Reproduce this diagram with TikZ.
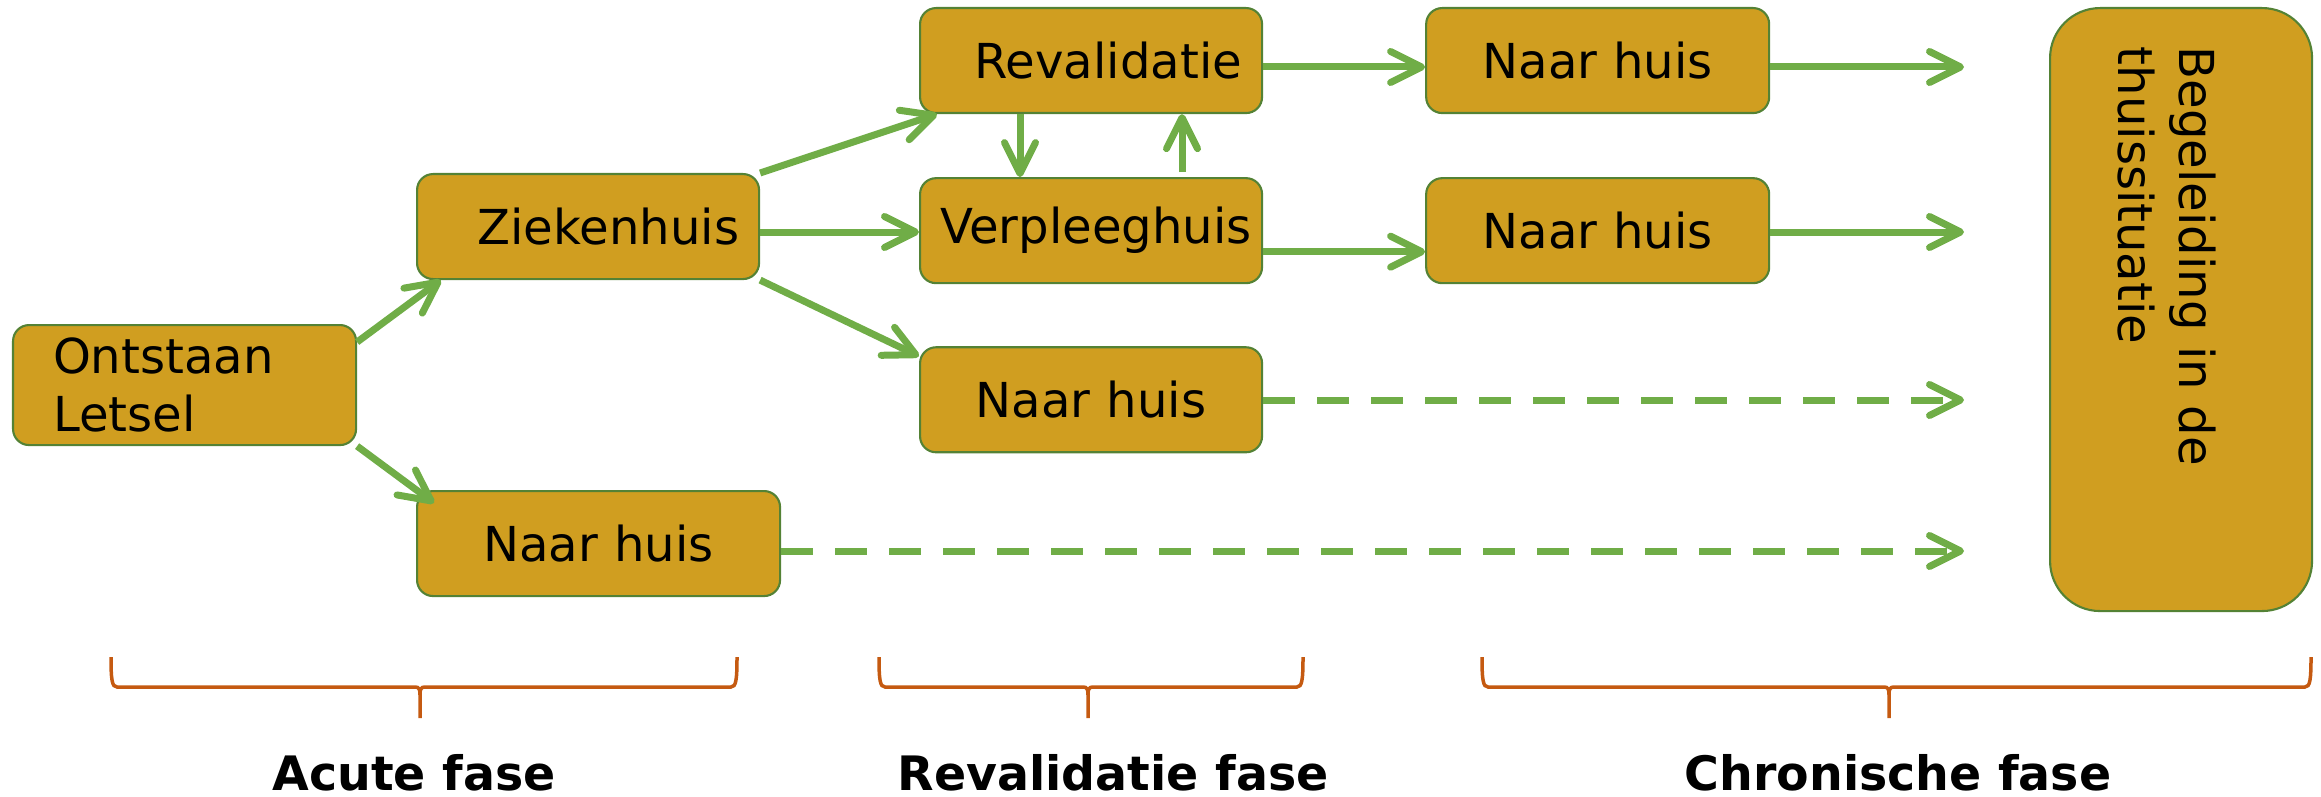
\documentclass[tikz,border=0pt]{standalone}
\usepackage{fontspec}
\setmainfont{DejaVu Sans}
\usetikzlibrary{positioning, arrows.meta}

\definecolor{goud}{RGB}{208,158,32}
\definecolor{randgroen}{RGB}{84,130,53}
\definecolor{pijlgroen}{RGB}{112,173,71}
\definecolor{haakoranje}{RGB}{197,90,17}

% accolade onder een fase: links, midden, rechts
\newcommand{\fasehaak}[3]{%
  \draw[haak] (#1,-6.57) .. controls (#1,-6.80) and (#1+0.01,-6.87) .. (#1+0.06,-6.87)
    -- (#2-0.05,-6.87) .. controls (#2-0.01,-6.87) and (#2,-6.89) .. (#2,-6.95) -- (#2,-7.18)
    (#2,-6.95) .. controls (#2,-6.89) and (#2+0.01,-6.87) .. (#2+0.05,-6.87)
    -- (#3-0.06,-6.87) .. controls (#3-0.01,-6.87) and (#3,-6.80) .. (#3,-6.57);}

\begin{document}
\begin{tikzpicture}[
    vak/.style={draw=randgroen, fill=goud, line width=0.6pt, rounded corners=0.16cm,
      minimum height=1.05cm, inner xsep=0.2cm, inner ysep=0pt, align=center,
      font=\fontsize{13.7}{16.5}\selectfont},
    pijl/.style={draw=pijlgroen, line width=0.07cm, -{Straight Barb[length=3.1mm,width=3.1mm,round]}},
    stippijl/.style={pijl, dash pattern=on 0.32cm off 0.22cm},
    haak/.style={draw=haakoranje, line width=0.035cm},
    fase/.style={font=\fontsize{13.5}{16}\selectfont\bfseries, anchor=base}]
    \useasboundingbox (0,0) rectangle (23.21,-7.97);

    % acute fase
    \node[vak, anchor=north west, minimum height=1.2cm, inner xsep=0.4cm, text width=2.63cm, align=left] (ontstaan) at (0.12,-3.24) {Ontstaan\\Letsel};
    \node[vak, anchor=north west, text width=3.02cm, align=right] (zieken) at (4.16,-1.73) {Ziekenhuis};
    \node[vak, anchor=north west, text width=3.23cm] (huisA) at (4.16,-4.90) {Naar huis};

    % revalidatie fase
    \node[vak, anchor=north west, text width=3.02cm, align=right] (reval) at (9.19,-0.07) {Revalidatie};
    \node[vak, text width=3.02cm, below=0.63cm of reval] (verpl) {Verpleeghuis};
    \node[vak, text width=3.02cm, below=0.62cm of verpl] (huisB) {Naar huis};

    % chronische fase
    \node[vak, text width=3.03cm, right=1.62cm of reval] (huisC) {Naar huis};
    \node[vak, text width=3.03cm, right=1.62cm of verpl] (huisD) {Naar huis};
    \node[vak, anchor=north west, minimum width=2.62cm, minimum height=6.03cm, rounded corners=0.5cm] (begel) at (20.49,-0.07) {};
    \node[rotate=-90, anchor=north west, inner sep=0pt, align=left, font=\fontsize{13.7}{17.5}\selectfont] (begeltekst) at (22.17,-0.46) {Begeleiding in de\\thuissituatie};

    \coordinate (eindC) at (19.64,-0.67);
    \coordinate (eindD) at (19.64,-2.32);
    \coordinate (eindB) at (19.64,-4.00);
    \coordinate (eindA) at (19.64,-5.51);

    \draw[pijl] (ontstaan.14) -- (zieken.200);
    \draw[pijl] (ontstaan.south east) -- ([xshift=0.18cm,yshift=-0.13cm]huisA.north west);
    \draw[pijl] (zieken.north east) -- ([xshift=0.18cm]reval.south west);
    \draw[pijl] (zieken.east |- eindD) -- (verpl.west |- eindD);
    \draw[pijl] (zieken.south east) -- ([yshift=-0.1cm]huisB.north west);
    \draw[pijl] ([xshift=1.01cm]reval.south west) -- ([xshift=1.01cm]verpl.north west);
    \draw[pijl] ([xshift=2.63cm,yshift=0.05cm]verpl.north west) -- ([xshift=2.63cm]reval.south west);
    \draw[pijl] (reval.east |- eindC) -- (huisC.west |- eindC);
    \draw[pijl] ([yshift=-0.21cm]verpl.east) -- ([yshift=-0.21cm]huisD.west);
    \draw[pijl] (huisC.east |- eindC) -- (eindC);
    \draw[pijl] (huisD.east |- eindD) -- (eindD);
    \draw[stippijl] (huisB.east |- eindB) -- (eindB);
    \draw[stippijl] (huisA.east |- eindA) -- (eindA);

    % fasen
    \fasehaak{1.11}{4.20}{7.37}
    \fasehaak{8.79}{10.88}{13.03}
    \fasehaak{14.82}{18.89}{23.11}
    \node[fase] (acuut) at (4.14,-7.90) {Acute fase};
    \node[fase] (revfase) at (11.13,-7.90) {Revalidatie fase};
    \node[fase] (chron) at (18.98,-7.90) {Chronische fase};
\end{tikzpicture}
\end{document}
